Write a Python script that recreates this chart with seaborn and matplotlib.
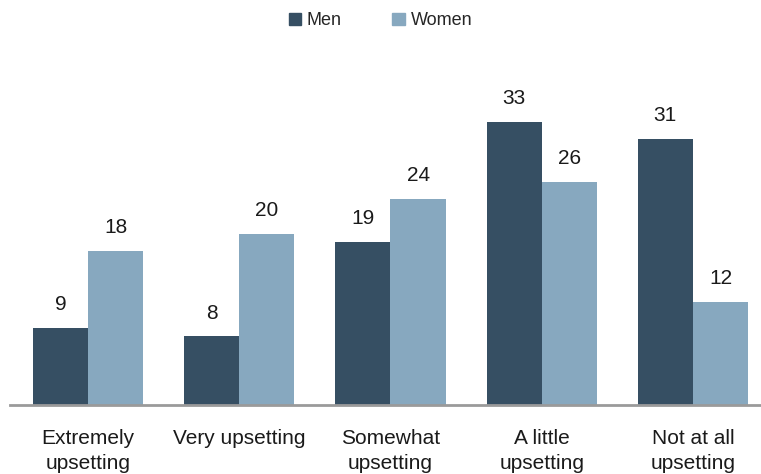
import pandas as pd
import matplotlib.pyplot as plt
import seaborn as sns

# data
categories = ['Extremely\nupsetting', 'Very upsetting', 'Somewhat\nupsetting',
              'A little\nupsetting', 'Not at all\nupsetting']
men = [9, 8, 19, 33, 31]
women = [18, 20, 24, 26, 12]

df = pd.DataFrame({
    'category': categories * 2,
    'gender': ['Men'] * len(men) + ['Women'] * len(women),
    'value': men + women,
})

sns.set_style('white')
plt.rcParams['font.family'] = ['Liberation Sans', 'DejaVu Sans']

fig = plt.figure(figsize=(7.61, 4.74), dpi=100)
ax = fig.add_axes([10 / 761, 69 / 474, 751 / 761, 355 / 474])

palette = {'Men': '#364F63', 'Women': '#87A8BF'}
sns.barplot(data=df, x='category', y='value', hue='gender', palette=palette,
            width=0.73, saturation=1, linewidth=0, ax=ax, legend=False)

for cont in ax.containers:
    ax.bar_label(cont, fontsize=15, padding=10, color='#1a1a1a')

ax.set_xlim(-0.516, 4.45)
ax.set_ylim(0, 41.4)
ax.set_xlabel('')
ax.set_ylabel('')
ax.set_yticks([])
for s in ['top', 'right', 'left']:
    ax.spines[s].set_visible(False)
ax.spines['bottom'].set_color('#9a9a9a')
ax.spines['bottom'].set_linewidth(2)
ax.tick_params(axis='x', length=0, pad=17)
for lbl in ax.get_xticklabels():
    lbl.set_fontsize(15)
    lbl.set_color('#1a1a1a')
    lbl.set_linespacing(1.4)

handles = [plt.Rectangle((0, 0), 1, 1, color=palette[g]) for g in ['Men', 'Women']]
fig.legend(handles, ['Men', 'Women'], loc='upper center', bbox_to_anchor=(0.5, 1.008),
           ncol=2, frameon=False, fontsize=13, handlelength=0.7, handleheight=0.7,
           handletextpad=0.3, columnspacing=2.8)

plt.savefig('out.png', dpi=100)
